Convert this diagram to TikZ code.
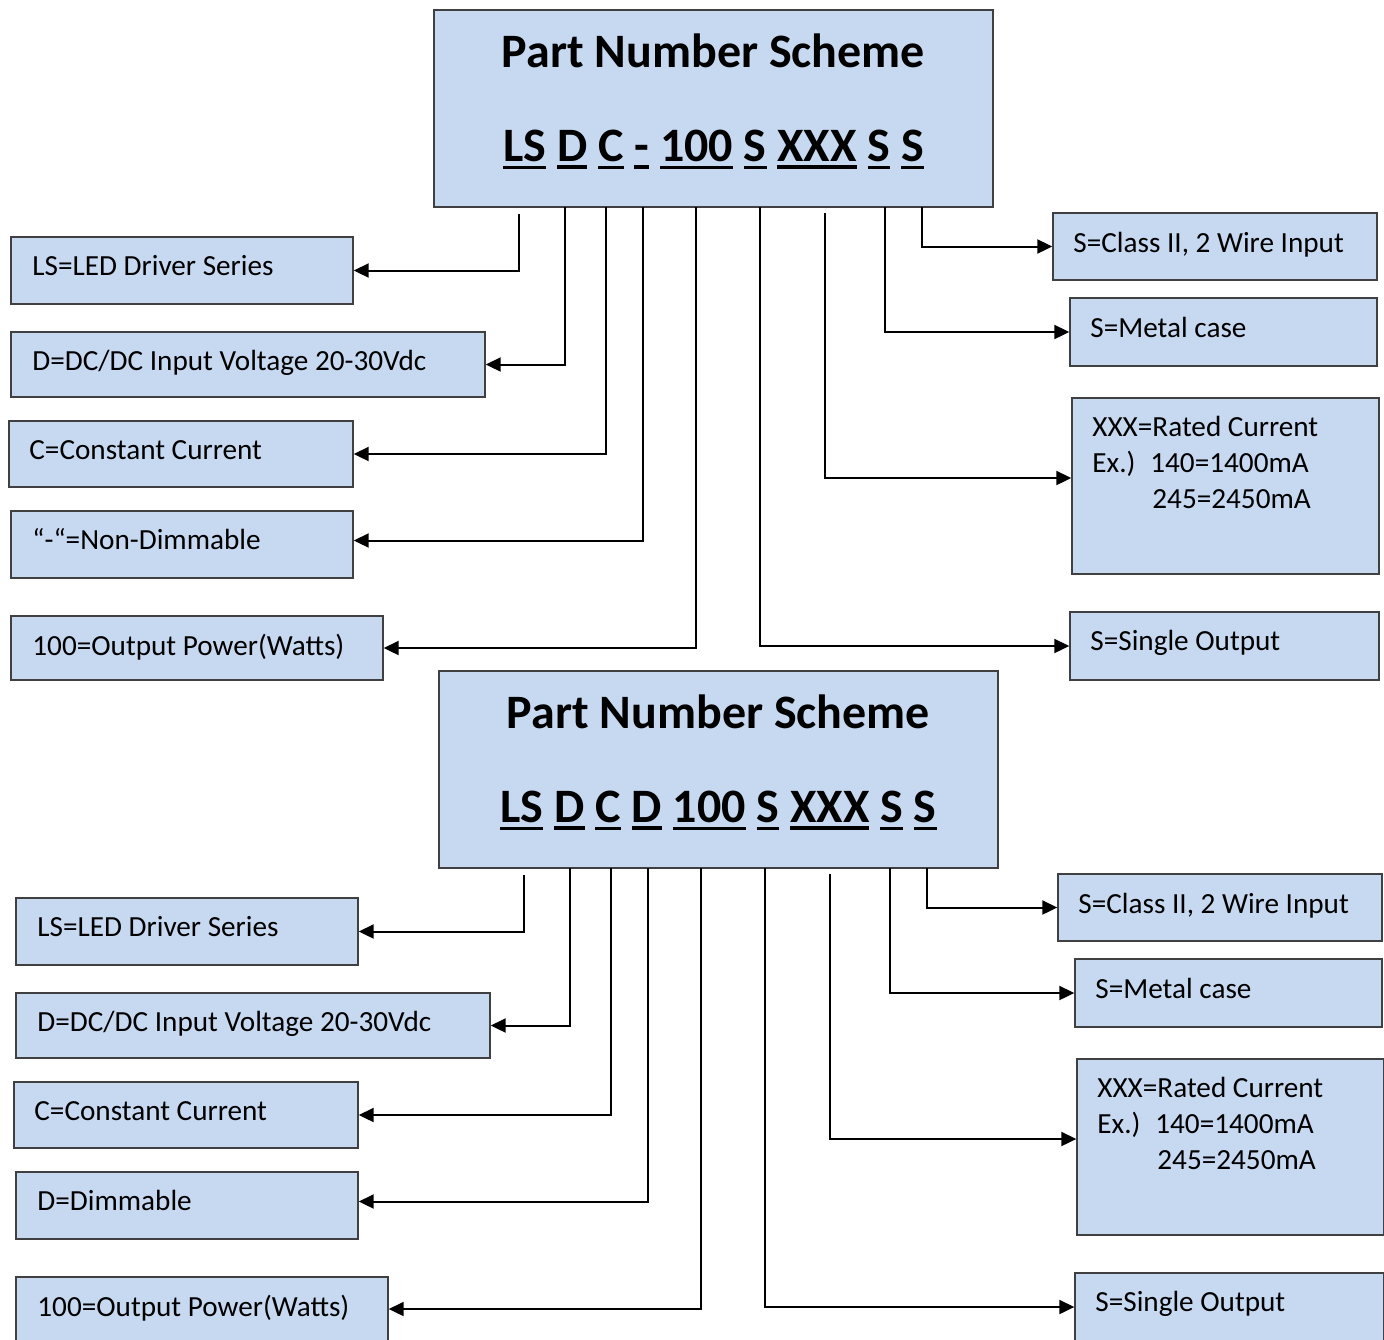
\documentclass[tikz,border=0pt]{standalone}
\usepackage{fontspec}
\setmainfont{Carlito}
\usetikzlibrary{arrows.meta,fit}
\definecolor{boxfill}{HTML}{C6D9F1}
\definecolor{boxline}{HTML}{404040}
\newcommand\myul[1]{\vtop{\hbox{#1}\kern2.2pt\hrule height1.6pt}}
\tikzset{
 box/.style={draw=boxline, fill=boxfill, line width=0.7pt, inner sep=0pt, fit={#1}},
 lbl/.style={anchor=base west, inner sep=0pt, font=\fontsize{14.6}{18}\selectfont},
 ttl/.style={anchor=base, inner sep=0pt, font=\fontsize{24}{28}\selectfont\bfseries},
 arr/.style={draw=black, line width=1pt, -{Triangle[length=7.5pt,width=7pt]}},
}
\newcommand\halfscheme[2]{%
 \node[box={(434,10) (993,207)}] (top) {};
 \node[ttl] (title) at (713.5,67) {Part Number Scheme};
 \node[ttl] (code) at (713.5,161) {\myul{LS} \myul{D} \myul{C} \myul{#2} \myul{100} \myul{S} \myul{XXX} \myul{S} \myul{S}};
 % left boxes
 \node[box={(11,237) (353,304)}] (l1) {};
 \node[lbl] (t1) at (32,275) {LS=LED Driver Series};
 \node[box={(11,332) (485,397)}] (l2) {};
 \node[lbl] (t2) at (32,370) {D=DC/DC Input Voltage 20-30Vdc};
 \node[box={(9,421) (353,487)}] (l3) {};
 \node[lbl] (t3) at (29,459) {C=Constant Current};
 \node[box={(11,511) (353,578)}] (l4) {};
 \node[lbl] (t4) at (32,549) {#1};
 \node[box={(11,616) (383,680)}] (l5) {};
 \node[lbl] (t5) at (32,655) {100=Output Power(Watts)};
 % right boxes
 \node[box={(1053,213) (1377,280)}] (r1) {};
 \node[lbl] (u1) at (1073,252) {S=Class II, 2 Wire Input};
 \node[box={(1070,298) (1377,366)}] (r2) {};
 \node[lbl] (u2) at (1090,337) {S=Metal case};
 \node[box={(1072,398) (1379,574)}] (r3) {};
 \node[lbl] (u3a) at (1092,436) {XXX=Rated Current};
 \node[lbl] (u3b) at (1092,472) {\makebox[29pt][l]{Ex.)}140=1400mA};
 \node[lbl] (u3c) at (1152,508) {245=2450mA};
 \node[box={(1070,612) (1379,680)}] (r4) {};
 \node[lbl] (u4) at (1090,650) {S=Single Output};
 % connector start points
 \coordinate (s1) at (519,214);
 \coordinate (s2) at (565,207);
 \coordinate (s3) at (606,207);
 \coordinate (s4) at (643,207);
 \coordinate (s5) at (696,207);
 \coordinate (s6) at (760,207);
 \coordinate (s7) at (825,213);
 \coordinate (s8) at (885,207);
 \coordinate (s9) at (922,207);
 \draw[arr] (s1) |- (l1.east);
 \draw[arr] (s2) |- (l2.east);
 \draw[arr] (s3) |- (l3.east);
 \draw[arr] (s4) |- ([yshift=2pt]l4.east);
 \draw[arr] (s5) |- (l5.east);
 \draw[arr] (s6) |- (r4.west);
 \draw[arr] (s7) |- ([yshift=4pt]r3.west);
 \draw[arr] (s8) |- (r2.west);
 \draw[arr] (s9) |- (r1.west);
}
\begin{document}
\begin{tikzpicture}[x=0.5pt,y=-0.5pt]
\useasboundingbox (0,0) rectangle (1384,1339);
\clip (0,0) rectangle (1384,1339);
\fill[white] (0,0) rectangle (1384,1339);
\begin{scope}[name prefix=a-]
\halfscheme{“-“=Non-Dimmable}{-}
\end{scope}
\begin{scope}[shift={(5,661)},name prefix=b-]
\halfscheme{D=Dimmable}{D}
\end{scope}
\end{tikzpicture}
\end{document}
